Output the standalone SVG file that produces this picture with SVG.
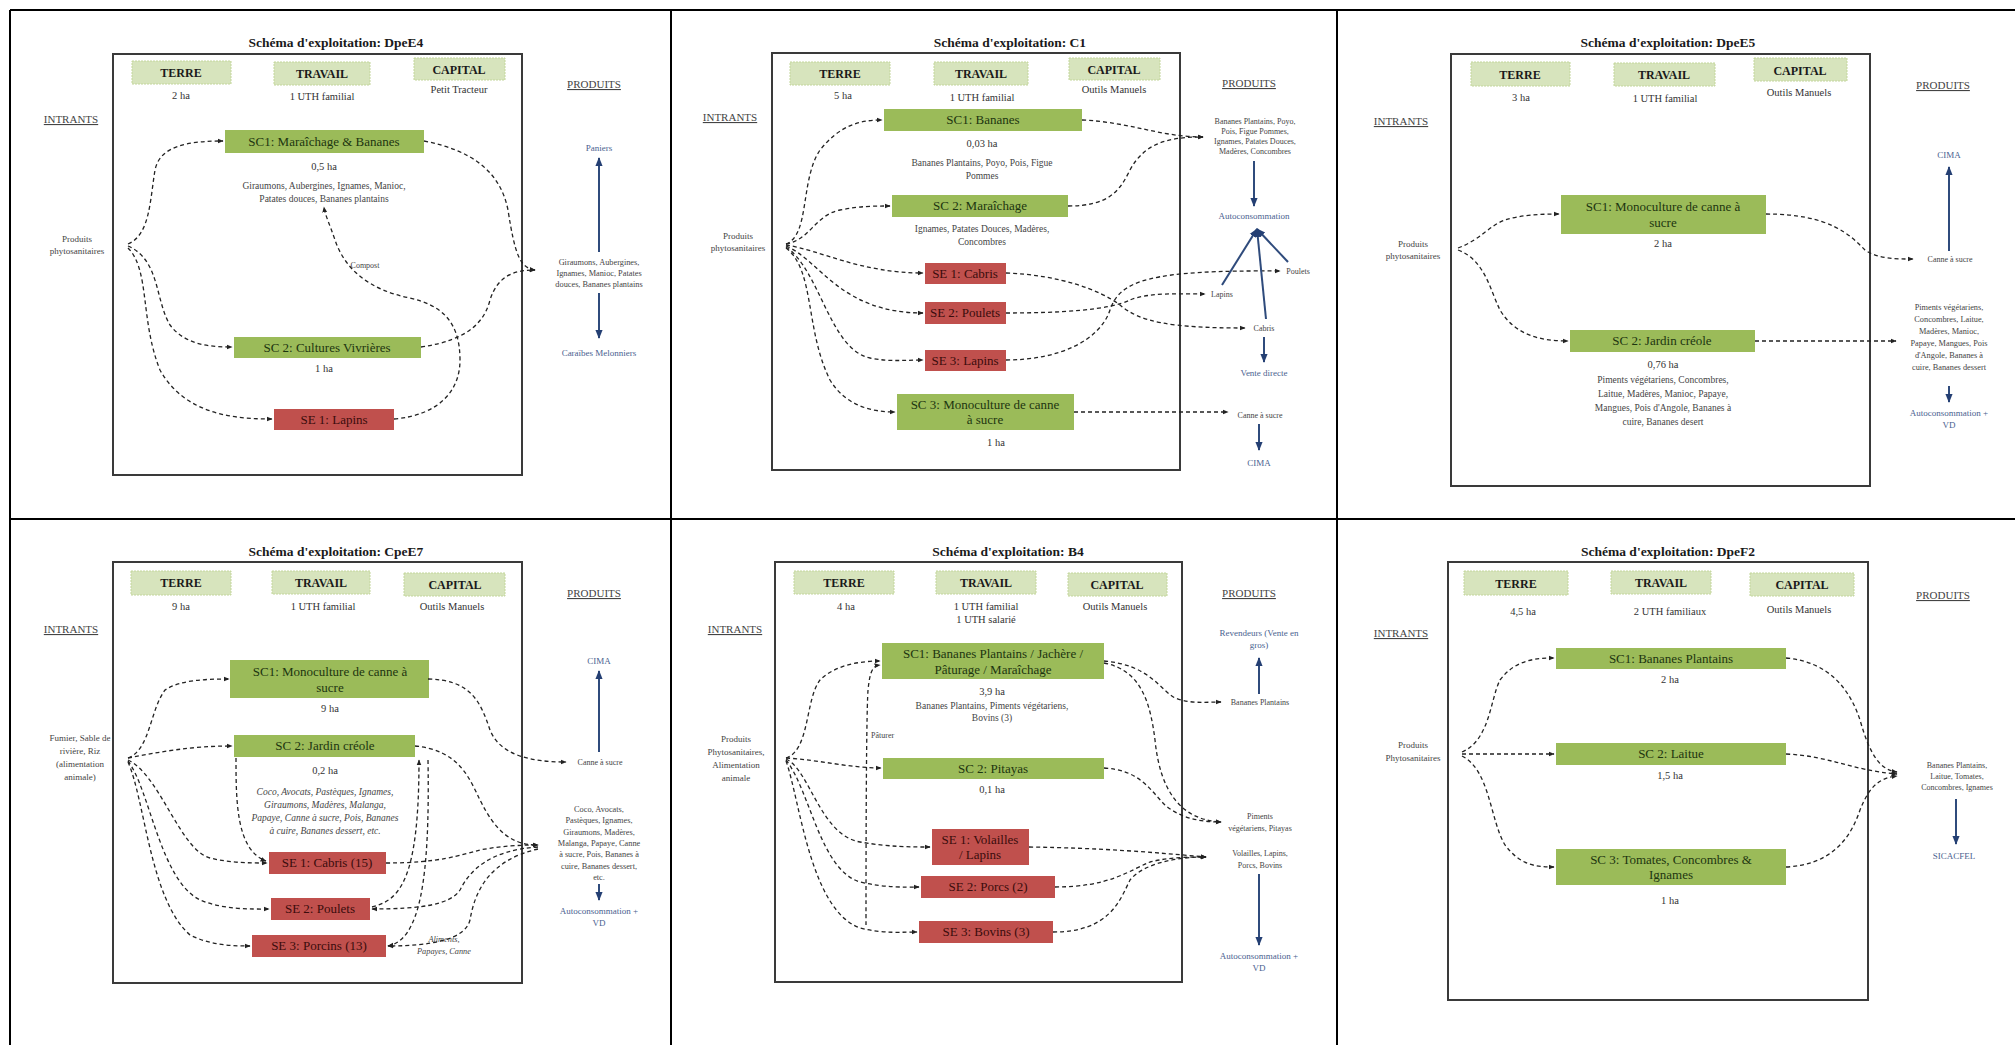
<svg xmlns="http://www.w3.org/2000/svg" width="2015" height="1045" viewBox="0 0 2015 1045">
<defs>
<marker id="ah" viewBox="0 0 10 10" refX="9" refY="5" markerWidth="6" markerHeight="6" markerUnits="userSpaceOnUse" orient="auto"><path d="M0,1 L10,5 L0,9 z" fill="#222"/></marker>
<marker id="bh" viewBox="0 0 10 10" refX="9" refY="5" markerWidth="9" markerHeight="9" markerUnits="userSpaceOnUse" orient="auto"><path d="M0,1 L10,5 L0,9 z" fill="#243f73"/></marker>
</defs>
<style>
text{font-family:"Liberation Serif",serif;text-anchor:middle;fill:#333}
.title{font-size:13.5px;font-weight:bold;fill:#1a1a1a}
.hdr{font-size:12px;font-weight:bold;fill:#1a1a1a}
.val{font-size:10.5px;fill:#333}
.sec{font-size:11px;fill:#444;text-decoration:underline}
.sc{font-size:13px;fill:#1d3510}
.se{font-size:13px;fill:#3a0c0c}
.ha{font-size:10.5px;fill:#333}
.crop{font-size:9.5px;fill:#444}
.it{font-style:italic}
.sm{font-size:8.3px;fill:#444}
.xs{font-size:8px;fill:#444}
.bl{font-size:9px;fill:#4a5f8f}
.int{font-size:9px;fill:#444}
.frame{fill:none;stroke:#3a3a3a;stroke-width:2}
.hbox{fill:#d7e4bd;stroke:#c3d69b;stroke-width:1;stroke-dasharray:2 1}
.scb{fill:#9bbb59}
.seb{fill:#c0504d}
.grid{stroke:#000;stroke-width:2;fill:none}
.dash{fill:none;stroke:#222;stroke-width:1.3;stroke-dasharray:4 3;marker-end:url(#ah)}
.blu{fill:none;stroke:#2f4b7c;stroke-width:2;marker-end:url(#bh)}
</style>
<rect x="0" y="0" width="2015" height="1045" fill="#fff"/>
<g id="grid">
<path class="grid" d="M10,10 L2015,10 M10,519 L2015,519 M10,10 L10,1045 M671,10 L671,1045 M1337,10 L1337,1045"/>
</g>

<g id="p1-DpeE4">
<text class="title" x="336" y="47">Schéma d'exploitation: DpeE4</text>
<rect class="frame" x="113" y="54" width="409" height="421"/>
<rect class="hbox" x="132" y="61" width="99" height="23"/><text class="hdr" x="181" y="77">TERRE</text>
<rect class="hbox" x="274" y="62" width="96" height="23"/><text class="hdr" x="322" y="78">TRAVAIL</text>
<rect class="hbox" x="414" y="58" width="91" height="22"/><text class="hdr" x="459" y="74">CAPITAL</text>
<text class="val" x="181" y="99">2 ha</text>
<text class="val" x="322" y="100">1 UTH familial</text>
<text class="val" x="459" y="93">Petit Tracteur</text>
<text class="sec" x="71" y="123">INTRANTS</text>
<text class="sec" x="594" y="88">PRODUITS</text>
<text class="int" x="77" y="242">Produits</text>
<text class="int" x="77" y="254">phytosanitaires</text>
<g id="p1-sc1"><rect class="scb" x="225" y="130" width="199" height="23"/><text class="sc" x="324" y="146">SC1: Maraîchage &amp; Bananes</text></g>
<text class="ha" x="324" y="170">0,5 ha</text>
<text class="crop" x="324" y="189">Giraumons, Aubergines, Ignames, Manioc,</text>
<text class="crop" x="324" y="202">Patates douces, Bananes plantains</text>
<text class="xs" x="365" y="268">Compost</text>
<g id="p1-sc2"><rect class="scb" x="234" y="337" width="187" height="21"/><text class="sc" x="327" y="352">SC 2: Cultures Vivrières</text></g>
<text class="ha" x="324" y="372">1 ha</text>
<g id="p1-se1"><rect class="seb" x="274" y="409" width="120" height="21"/><text class="se" x="334" y="424">SE 1: Lapins</text></g>
<text class="bl" x="599" y="151">Paniers</text>
<text class="sm" x="599" y="265">Giraumons, Aubergines,</text>
<text class="sm" x="599" y="276">Ignames, Manioc, Patates</text>
<text class="sm" x="599" y="287">douces, Bananes plantains</text>
<text class="bl" x="599" y="356">Caraïbes Melonniers</text>
</g>

<g id="p2-C1">
<text class="title" x="1010" y="47">Schéma d'exploitation: C1</text>
<rect class="frame" x="772" y="53" width="408" height="417"/>
<rect class="hbox" x="790" y="62" width="100" height="23"/><text class="hdr" x="840" y="78">TERRE</text>
<rect class="hbox" x="934" y="62" width="94" height="23"/><text class="hdr" x="981" y="78">TRAVAIL</text>
<rect class="hbox" x="1069" y="58" width="91" height="22"/><text class="hdr" x="1114" y="74">CAPITAL</text>
<text class="val" x="843" y="99">5 ha</text>
<text class="val" x="982" y="101">1 UTH familial</text>
<text class="val" x="1114" y="93">Outils Manuels</text>
<text class="sec" x="730" y="121">INTRANTS</text>
<text class="sec" x="1249" y="87">PRODUITS</text>
<text class="int" x="738" y="239">Produits</text>
<text class="int" x="738" y="251">phytosanitaires</text>
<g id="p2-sc1"><rect class="scb" x="884" y="109" width="198" height="22"/><text class="sc" x="983" y="124">SC1: Bananes</text></g>
<text class="ha" x="982" y="147">0,03 ha</text>
<text class="crop" x="982" y="166">Bananes Plantains, Poyo, Pois, Figue</text>
<text class="crop" x="982" y="179">Pommes</text>
<g id="p2-sc2"><rect class="scb" x="892" y="195" width="176" height="22"/><text class="sc" x="980" y="210">SC 2: Maraîchage</text></g>
<text class="crop" x="982" y="232">Ignames, Patates Douces, Madères,</text>
<text class="crop" x="982" y="245">Concombres</text>
<g id="p2-se1"><rect class="seb" x="925" y="263" width="81" height="21"/><text class="se" x="965" y="278">SE 1: Cabris</text></g>
<g id="p2-se2"><rect class="seb" x="925" y="302" width="81" height="22"/><text class="se" x="965" y="317">SE 2: Poulets</text></g>
<g id="p2-se3"><rect class="seb" x="925" y="350" width="81" height="21"/><text class="se" x="965" y="365">SE 3: Lapins</text></g>
<g id="p2-sc3"><rect class="scb" x="897" y="394" width="177" height="36"/><text class="sc" x="985" y="409">SC 3: Monoculture de canne</text><text class="sc" x="985" y="424">à sucre</text></g>
<text class="ha" x="996" y="446">1 ha</text>
<text class="xs" x="1255" y="124">Bananes Plantains, Poyo,</text>
<text class="xs" x="1255" y="134">Pois, Figue Pommes,</text>
<text class="xs" x="1255" y="144">Ignames, Patates Douces,</text>
<text class="xs" x="1255" y="154">Madères, Concombres</text>
<text class="bl" x="1254" y="219">Autoconsommation</text>
<text class="xs" x="1298" y="274">Poulets</text>
<text class="xs" x="1222" y="297">Lapins</text>
<text class="xs" x="1264" y="331">Cabris</text>
<text class="bl" x="1264" y="376">Vente directe</text>
<text class="xs" x="1260" y="418">Canne à sucre</text>
<text class="bl" x="1259" y="466">CIMA</text>
</g>

<g id="p3-DpeE5">
<text class="title" x="1668" y="47">Schéma d'exploitation: DpeE5</text>
<rect class="frame" x="1451" y="54" width="419" height="432"/>
<rect class="hbox" x="1471" y="62" width="99" height="24"/><text class="hdr" x="1520" y="79">TERRE</text>
<rect class="hbox" x="1614" y="63" width="101" height="23"/><text class="hdr" x="1664" y="79">TRAVAIL</text>
<rect class="hbox" x="1754" y="58" width="93" height="23"/><text class="hdr" x="1800" y="75">CAPITAL</text>
<text class="val" x="1521" y="101">3 ha</text>
<text class="val" x="1665" y="102">1 UTH familial</text>
<text class="val" x="1799" y="96">Outils Manuels</text>
<text class="sec" x="1401" y="125">INTRANTS</text>
<text class="sec" x="1943" y="89">PRODUITS</text>
<text class="int" x="1413" y="247">Produits</text>
<text class="int" x="1413" y="259">phytosanitaires</text>
<g id="p3-sc1"><rect class="scb" x="1561" y="195" width="205" height="39"/><text class="sc" x="1663" y="211">SC1: Monoculture de canne à</text><text class="sc" x="1663" y="227">sucre</text></g>
<text class="ha" x="1663" y="247">2 ha</text>
<g id="p3-sc2"><rect class="scb" x="1570" y="330" width="185" height="22"/><text class="sc" x="1662" y="345">SC 2: Jardin créole</text></g>
<text class="ha" x="1663" y="368">0,76 ha</text>
<text class="crop" x="1663" y="383">Piments végétariens, Concombres,</text>
<text class="crop" x="1663" y="397">Laitue, Madères, Manioc, Papaye,</text>
<text class="crop" x="1663" y="411">Mangues, Pois d'Angole, Bananes à</text>
<text class="crop" x="1663" y="425">cuire, Bananes desert</text>
<text class="bl" x="1949" y="158">CIMA</text>
<text class="xs" x="1950" y="262">Canne à sucre</text>
<text class="sm" x="1949" y="310">Piments végétariens,</text>
<text class="sm" x="1949" y="322">Concombres, Laitue,</text>
<text class="sm" x="1949" y="334">Madères, Manioc,</text>
<text class="sm" x="1949" y="346">Papaye, Mangues, Pois</text>
<text class="sm" x="1949" y="358">d'Angole, Bananes à</text>
<text class="sm" x="1949" y="370">cuire, Bananes dessert</text>
<text class="bl" x="1949" y="416">Autoconsommation +</text>
<text class="bl" x="1949" y="428">VD</text>
</g>

<g id="p4-CpeE7">
<text class="title" x="336" y="556">Schéma d'exploitation: CpeE7</text>
<rect class="frame" x="113" y="562" width="409" height="421"/>
<rect class="hbox" x="131" y="571" width="100" height="24"/><text class="hdr" x="181" y="587">TERRE</text>
<rect class="hbox" x="272" y="571" width="98" height="23"/><text class="hdr" x="321" y="587">TRAVAIL</text>
<rect class="hbox" x="404" y="573" width="101" height="23"/><text class="hdr" x="455" y="589">CAPITAL</text>
<text class="val" x="181" y="610">9 ha</text>
<text class="val" x="323" y="610">1 UTH familial</text>
<text class="val" x="452" y="610">Outils Manuels</text>
<text class="sec" x="71" y="633">INTRANTS</text>
<text class="sec" x="594" y="597">PRODUITS</text>
<text class="int" x="80" y="741">Fumier, Sable de</text>
<text class="int" x="80" y="754">rivière, Riz</text>
<text class="int" x="80" y="767">(alimentation</text>
<text class="int" x="80" y="780">animale)</text>
<g id="p4-sc1"><rect class="scb" x="230" y="660" width="199" height="38"/><text class="sc" x="330" y="676">SC1: Monoculture de canne à</text><text class="sc" x="330" y="692">sucre</text></g>
<text class="ha" x="330" y="712">9 ha</text>
<g id="p4-sc2"><rect class="scb" x="234" y="735" width="181" height="22"/><text class="sc" x="325" y="750">SC 2: Jardin créole</text></g>
<text class="ha" x="325" y="774">0,2 ha</text>
<text class="crop it" x="325" y="795">Coco, Avocats, Pastèques, Ignames,</text>
<text class="crop it" x="325" y="808">Giraumons, Madères, Malanga,</text>
<text class="crop it" x="325" y="821">Papaye, Canne à sucre, Pois, Bananes</text>
<text class="crop it" x="325" y="834">à cuire, Bananes dessert, etc.</text>
<g id="p4-se1"><rect class="seb" x="269" y="852" width="117" height="22"/><text class="se" x="327" y="867">SE 1: Cabris (15)</text></g>
<g id="p4-se2"><rect class="seb" x="271" y="898" width="99" height="22"/><text class="se" x="320" y="913">SE 2: Poulets</text></g>
<g id="p4-se3"><rect class="seb" x="252" y="935" width="134" height="22"/><text class="se" x="319" y="950">SE 3: Porcins (13)</text></g>
<text class="sm it" x="444" y="942">Aliments,</text>
<text class="sm it" x="444" y="954">Papayes, Canne</text>
<text class="bl" x="599" y="664">CIMA</text>
<text class="xs" x="600" y="765">Canne à sucre</text>
<text class="sm" x="599" y="812">Coco, Avocats,</text>
<text class="sm" x="599" y="823">Pastèques, Ignames,</text>
<text class="sm" x="599" y="835">Giraumons, Madères,</text>
<text class="sm" x="599" y="846">Malanga, Papaye, Canne</text>
<text class="sm" x="599" y="857">à sucre, Pois, Bananes à</text>
<text class="sm" x="599" y="869">cuire, Bananes dessert,</text>
<text class="sm" x="599" y="880">etc.</text>
<text class="bl" x="599" y="914">Autoconsommation +</text>
<text class="bl" x="599" y="926">VD</text>
</g>

<g id="p5-B4">
<text class="title" x="1008" y="556">Schéma d'exploitation: B4</text>
<rect class="frame" x="775" y="562" width="407" height="420"/>
<rect class="hbox" x="794" y="571" width="100" height="23"/><text class="hdr" x="844" y="587">TERRE</text>
<rect class="hbox" x="936" y="571" width="100" height="23"/><text class="hdr" x="986" y="587">TRAVAIL</text>
<rect class="hbox" x="1068" y="573" width="99" height="23"/><text class="hdr" x="1117" y="589">CAPITAL</text>
<text class="val" x="846" y="610">4 ha</text>
<text class="val" x="986" y="610">1 UTH familial</text>
<text class="val" x="986" y="623">1 UTH salarié</text>
<text class="val" x="1115" y="610">Outils Manuels</text>
<text class="sec" x="735" y="633">INTRANTS</text>
<text class="sec" x="1249" y="597">PRODUITS</text>
<text class="int" x="736" y="742">Produits</text>
<text class="int" x="736" y="755">Phytosanitaires,</text>
<text class="int" x="736" y="768">Alimentation</text>
<text class="int" x="736" y="781">animale</text>
<g id="p5-sc1"><rect class="scb" x="882" y="643" width="222" height="36"/><text class="sc" x="993" y="658">SC1: Bananes Plantains / Jachère /</text><text class="sc" x="993" y="674">Pâturage / Maraîchage</text></g>
<text class="ha" x="992" y="695">3,9 ha</text>
<text class="crop" x="992" y="709">Bananes Plantains, Piments végétariens,</text>
<text class="crop" x="992" y="721">Bovins (3)</text>
<text class="xs" x="871" y="738" style="text-anchor:start">Pâturer</text>
<g id="p5-sc2"><rect class="scb" x="883" y="758" width="221" height="21"/><text class="sc" x="993" y="773">SC 2: Pitayas</text></g>
<text class="ha" x="992" y="793">0,1 ha</text>
<g id="p5-se1"><rect class="seb" x="932" y="829" width="97" height="36"/><text class="se" x="980" y="844">SE 1: Volailles</text><text class="se" x="980" y="859">/ Lapins</text></g>
<g id="p5-se2"><rect class="seb" x="921" y="876" width="134" height="22"/><text class="se" x="988" y="891">SE 2: Porcs (2)</text></g>
<g id="p5-se3"><rect class="seb" x="919" y="921" width="134" height="22"/><text class="se" x="986" y="936">SE 3: Bovins (3)</text></g>
<text class="bl" x="1259" y="636">Revendeurs (Vente en</text>
<text class="bl" x="1259" y="648">gros)</text>
<text class="xs" x="1260" y="705">Bananes Plantains</text>
<text class="xs" x="1260" y="819">Piments</text>
<text class="xs" x="1260" y="831">végétariens, Pitayas</text>
<text class="xs" x="1260" y="856">Volailles, Lapins,</text>
<text class="xs" x="1260" y="868">Porcs, Bovins</text>
<text class="bl" x="1259" y="959">Autoconsommation +</text>
<text class="bl" x="1259" y="971">VD</text>
</g>

<g id="p6-DpeF2">
<text class="title" x="1668" y="556">Schéma d'exploitation: DpeF2</text>
<rect class="frame" x="1448" y="562" width="420" height="438"/>
<rect class="hbox" x="1464" y="571" width="104" height="24"/><text class="hdr" x="1516" y="588">TERRE</text>
<rect class="hbox" x="1611" y="571" width="100" height="23"/><text class="hdr" x="1661" y="587">TRAVAIL</text>
<rect class="hbox" x="1750" y="573" width="104" height="23"/><text class="hdr" x="1802" y="589">CAPITAL</text>
<text class="val" x="1523" y="615">4,5 ha</text>
<text class="val" x="1670" y="615">2 UTH familiaux</text>
<text class="val" x="1799" y="613">Outils Manuels</text>
<text class="sec" x="1401" y="637">INTRANTS</text>
<text class="sec" x="1943" y="599">PRODUITS</text>
<text class="int" x="1413" y="748">Produits</text>
<text class="int" x="1413" y="761">Phytosanitaires</text>
<g id="p6-sc1"><rect class="scb" x="1556" y="648" width="230" height="21"/><text class="sc" x="1671" y="663">SC1: Bananes Plantains</text></g>
<text class="ha" x="1670" y="683">2 ha</text>
<g id="p6-sc2"><rect class="scb" x="1556" y="743" width="230" height="22"/><text class="sc" x="1671" y="758">SC 2: Laitue</text></g>
<text class="ha" x="1670" y="779">1,5 ha</text>
<g id="p6-sc3"><rect class="scb" x="1556" y="849" width="230" height="36"/><text class="sc" x="1671" y="864">SC 3: Tomates, Concombres &amp;</text><text class="sc" x="1671" y="879">Ignames</text></g>
<text class="ha" x="1670" y="904">1 ha</text>
<text class="xs" x="1957" y="768">Bananes Plantains,</text>
<text class="xs" x="1957" y="779">Laitue, Tomates,</text>
<text class="xs" x="1957" y="790">Concombres, Ignames</text>
<text class="bl" x="1954" y="859">SICACFEL</text>
</g>

<g id="connectors">
<path class="dash" d="M128,244 C150,235 150,200 155,170 C160,145 190,141 223,141"/>
<path class="dash" d="M128,246 C160,260 155,300 170,325 C185,345 210,347 232,347"/>
<path class="dash" d="M128,248 C150,270 140,320 160,370 C185,415 235,419 272,419"/>
<path class="dash" d="M424,141 C470,150 500,170 508,210 C515,255 520,268 535,270"/>
<path class="dash" d="M421,347 C470,340 485,320 490,300 C498,275 515,270 535,270"/>
<path class="dash" d="M394,419 C440,415 460,390 460,360 C460,320 440,305 410,298 C370,290 345,270 335,240 C330,225 325,215 324,207"/>
<path class="blu" d="M599,252 L599,158"/>
<path class="blu" d="M599,293 L599,338"/>
<path class="dash" d="M786,244 C810,235 800,180 820,150 C840,125 860,120 882,120"/>
<path class="dash" d="M786,244 C810,240 815,215 840,210 C860,206 875,206 890,206"/>
<path class="dash" d="M786,245 C820,250 860,273 923,273"/>
<path class="dash" d="M786,246 C820,260 840,313 923,313"/>
<path class="dash" d="M786,247 C820,270 830,350 870,358 C890,362 905,360 923,360"/>
<path class="dash" d="M786,248 C815,270 805,330 830,380 C845,405 870,412 895,412"/>
<path class="dash" d="M1082,120 C1130,122 1160,137 1203,137"/>
<path class="dash" d="M1068,206 C1110,206 1120,190 1130,170 C1145,142 1170,137 1203,137"/>
<path class="dash" d="M1006,273 C1060,275 1100,290 1120,305 C1140,322 1170,328 1245,328"/>
<path class="dash" d="M1006,313 C1060,313 1110,310 1130,300 C1150,292 1180,294 1205,294"/>
<path class="dash" d="M1006,360 C1060,360 1100,340 1110,310 C1120,280 1150,270 1280,271"/>
<path class="dash" d="M1074,412 L1228,412"/>
<path class="blu" d="M1254,161 L1254,206"/>
<path class="blu" d="M1222,285 L1257,229"/>
<path class="blu" d="M1266,319 L1257,229"/>
<path class="blu" d="M1288,262 L1257,229"/>
<path class="blu" d="M1264,337 L1264,362"/>
<path class="blu" d="M1259,424 L1259,450"/>
<path class="dash" d="M1458,248 C1480,240 1490,225 1505,220 C1520,215 1540,214 1559,214"/>
<path class="dash" d="M1458,250 C1485,260 1490,290 1500,310 C1515,335 1540,341 1568,341"/>
<path class="dash" d="M1766,214 C1830,214 1850,235 1865,250 C1878,259 1895,259 1913,259"/>
<path class="dash" d="M1755,341 L1896,341"/>
<path class="blu" d="M1949,251 L1949,167"/>
<path class="blu" d="M1949,386 L1949,402"/>
<path class="dash" d="M128,758 C150,750 150,710 165,690 C180,680 205,679 229,679"/>
<path class="dash" d="M128,758 C160,752 190,746 232,746"/>
<path class="dash" d="M128,760 C160,775 180,850 210,858 C230,863 250,863 267,863"/>
<path class="dash" d="M128,761 C150,790 160,880 200,900 C225,910 250,909 269,909"/>
<path class="dash" d="M128,762 C145,800 150,900 190,935 C210,945 230,946 250,946"/>
<path class="dash" d="M236,758 C236,800 236,850 266,861"/>
<path class="dash" d="M372,907 C400,900 419,880 419,760"/>
<path class="dash" d="M428,760 C430,880 420,940 388,946"/>
<path class="dash" d="M428,679 C470,680 480,700 490,730 C500,755 530,762 566,762"/>
<path class="dash" d="M415,746 C460,750 470,780 480,800 C495,830 510,845 538,845"/>
<path class="dash" d="M386,863 C440,863 460,855 480,850 C500,846 520,845 538,845"/>
<path class="dash" d="M538,847 C490,850 470,870 460,890 C450,905 420,909 372,909"/>
<path class="dash" d="M538,849 C490,860 475,890 470,920 C465,940 430,946 388,946"/>
<path class="blu" d="M599,752 L599,671"/>
<path class="blu" d="M599,884 L599,900"/>
<path class="dash" d="M786,758 C810,750 805,700 820,680 C835,665 860,661 880,661"/>
<path class="dash" d="M786,758 C820,760 850,768 881,768"/>
<path class="dash" d="M786,759 C810,770 820,835 860,842 C890,847 910,847 930,847"/>
<path class="dash" d="M786,760 C810,790 820,870 860,882 C885,888 905,887 919,887"/>
<path class="dash" d="M786,761 C800,800 810,910 860,928 C885,934 900,932 917,932"/>
<path class="dash" d="M866,925 C866,880 866,720 868,690 C870,672 872,666 880,665"/>
<path class="dash" d="M1104,661 C1150,665 1160,690 1175,698 C1190,704 1205,702 1221,702"/>
<path class="dash" d="M1104,663 C1140,670 1150,700 1155,740 C1160,790 1180,820 1221,822"/>
<path class="dash" d="M1104,768 C1140,770 1150,790 1165,805 C1180,818 1200,822 1221,822"/>
<path class="dash" d="M1029,847 C1100,848 1150,852 1206,857"/>
<path class="dash" d="M1055,887 C1110,887 1130,870 1150,862 C1170,857 1190,857 1206,857"/>
<path class="dash" d="M1053,932 C1110,932 1120,900 1130,880 C1145,862 1180,857 1206,857"/>
<path class="blu" d="M1259,694 L1259,658"/>
<path class="blu" d="M1259,874 L1259,945"/>
<path class="dash" d="M1462,752 C1490,740 1490,700 1500,680 C1515,660 1535,658 1554,658"/>
<path class="dash" d="M1462,754 L1554,754"/>
<path class="dash" d="M1462,756 C1490,770 1490,820 1505,845 C1520,865 1535,867 1554,867"/>
<path class="dash" d="M1786,658 C1830,662 1850,690 1860,720 C1870,755 1880,770 1897,772"/>
<path class="dash" d="M1786,754 C1830,756 1850,770 1897,774"/>
<path class="dash" d="M1786,867 C1830,865 1850,840 1860,810 C1870,785 1880,778 1897,776"/>
<path class="blu" d="M1956,799 L1956,844"/>
</g>
</svg>
